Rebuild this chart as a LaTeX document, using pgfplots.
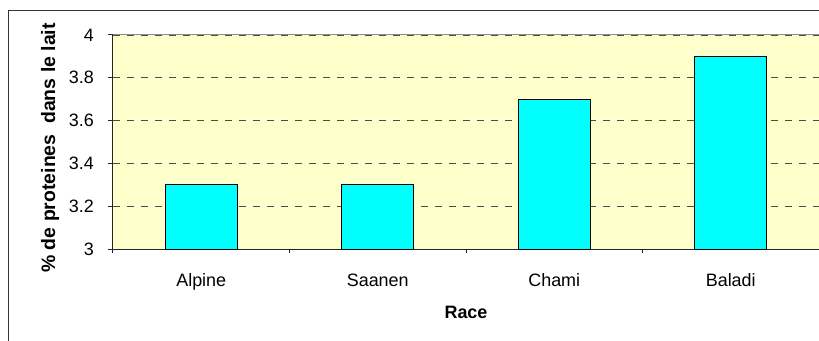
\documentclass[border=0pt]{standalone}
\usepackage{fontspec}
\setmainfont{Liberation Sans}
\usepackage{pgfplots}
\pgfplotsset{compat=1.18}
\definecolor{plotbg}{HTML}{FFFFCC}
\definecolor{barcyan}{HTML}{00FFFF}

\begin{document}
\begin{tikzpicture}[font=\fontsize{18}{21}\selectfont]
\useasboundingbox (-113bp,-92bp) rectangle (706bp,249bp);
% chart frame
\draw[line width=1bp, black!80] (-104bp,-110bp) -- (-104bp,238bp) -- (730bp,238bp);
\begin{axis}[
  at={(0,0)}, anchor=south west,
  width=706bp, height=214bp, scale only axis,
  every axis/.append style={font=\fontsize{18}{21}\selectfont},
  xmin=-0.5, xmax=3.5, ymin=3, ymax=4,
  axis x line*=bottom, axis y line*=left,
  axis line style={-, black!85, line width=1bp},
  xtick={0,1,2,3}, xticklabels={Alpine,Saanen,Chami,Baladi},
  major x tick style={draw=none},
  minor xtick={-0.5,0.5,1.5,2.5,3.5},
  minor tick length=4bp, major tick length=5bp,
  tick align=outside,
  tick style={black!85, line width=1bp},
  ytick={3,3.2,3.4,3.6,3.8,4},
  ymajorgrids,
  grid style={dash pattern=on 7bp off 7bp, black!70, line width=0.9bp},
  /pgf/number format/assume math mode=true,
  yticklabel style={/pgf/number format/fixed, anchor=east, xshift=-14bp, inner sep=0pt},
  xticklabel style={anchor=base, yshift=-32bp, inner sep=0pt},
  axis background/.style={fill=plotbg},
  xlabel={\bfseries Race},
  ylabel={\bfseries \% de proteines\ \ dans le lait},
  xlabel style={at={(axis description cs:0.5,-0.294)}, anchor=center},
  ylabel style={at={(axis description cs:-0.089,0.472)}, anchor=center, font=\fontsize{19.5}{22}\selectfont},
  ybar, bar width=0.41,
]
\addplot[fill=barcyan, draw=black, line width=1bp] coordinates {(0,3.3) (1,3.3) (2,3.7) (3,3.9)};
\draw[black!45, line width=1bp] (rel axis cs:0,1) -- (rel axis cs:1,1);
\end{axis}
\end{tikzpicture}
\end{document}
